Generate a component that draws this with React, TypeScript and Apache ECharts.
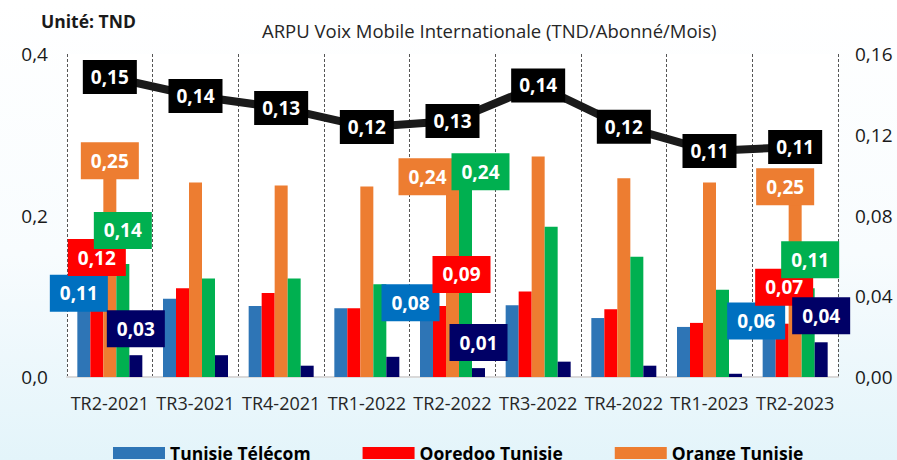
import React, { useEffect, useRef } from "react";
import * as echarts from "echarts";

const categories = ["TR2-2021", "TR3-2021", "TR4-2021", "TR1-2022", "TR2-2022", "TR3-2022", "TR4-2022", "TR1-2023", "TR2-2023"];
const tunisieTelecom = [0.108, 0.097, 0.088, 0.085, 0.084, 0.089, 0.073, 0.062, 0.06];
const ooredoo = [0.12, 0.11, 0.104, 0.085, 0.088, 0.106, 0.084, 0.067, 0.066];
const orange = [0.25, 0.241, 0.237, 0.236, 0.24, 0.273, 0.246, 0.241, 0.25];
const lyca = [0.14, 0.122, 0.122, 0.115, 0.245, 0.186, 0.149, 0.108, 0.11];
const autre = [0.027, 0.027, 0.014, 0.025, 0.011, 0.019, 0.014, 0.004, 0.043];
const moyenne = [0.1486, 0.1392, 0.1333, 0.1238, 0.1268, 0.1444, 0.124, 0.112, 0.1139];
const leftTicks = { min: 0, max: 0.4, interval: 0.2 };
const rightTicks = { min: 0, max: 0.16, interval: 0.04 };

// label offsets for labelled quarters (index -> [dx, dy])
const offsTT: Record<number, number[]> = { 0: [-5, 22], 4: [-16, 12], 8: [-13, 11] };
const offsOO: Record<number, number[]> = { 0: [0, -4], 4: [22, -13], 8: [2, -18] };
const offsOR: Record<number, number[]> = { 0: [0, 4], 4: [-25, 12], 8: [-10, 30] };
const offsLY: Record<number, number[]> = { 0: [0, -15], 4: [15, 11], 8: [2, -10] };
const offsAU: Record<number, number[]> = { 0: [0, -8], 4: [0, -7], 8: [0, -8] };

const fmt2 = (v: number) => v.toFixed(2).replace(".", ",");

function barSeries(name: string, values: number[], color: string, labelBg: string, offs: Record<number, number[]>) {
  return {
    name,
    type: "bar",
    yAxisIndex: 0,
    barWidth: 13,
    barGap: "0%",
    itemStyle: { color },
    label: {
      show: false,
      position: "top",
      distance: 0,
      formatter: (p: any) => fmt2(p.value),
      color: "#fff",
      fontWeight: "bold",
      fontSize: 19,
      fontFamily: "Open Sans",
      lineHeight: 25,
      padding: [6, 10],
      backgroundColor: labelBg,
    },
    data: values.map((v, i) =>
      offs[i] ? { value: v, label: { show: true, offset: offs[i] } } : v
    ),
  };
}

export default function App() {
  const ref = useRef<HTMLDivElement>(null);
  useEffect(() => {
    document.body.style.margin = "0";
    const chart = echarts.init(ref.current!, undefined, { renderer: "svg" });
    chart.setOption({
      animation: false,
      backgroundColor: {
        type: "linear", x: 0, y: 0, x2: 0, y2: 1,
        colorStops: [
          { offset: 0, color: "#FFFFFF" },
          { offset: 0.55, color: "#F8FCFE" },
          { offset: 1, color: "#E3F4FA" },
        ],
      },
      title: [
        {
          text: "ARPU Voix Mobile Internationale (TND/Abonné/Mois)",
          left: 257, top: 16,
          textStyle: { fontFamily: "Open Sans", fontSize: 18.5, fontWeight: "normal", color: "#262626" },
        },
        {
          text: "Unité: TND",
          left: 36, top: 7,
          textStyle: { fontFamily: "Open Sans", fontSize: 17.5, fontWeight: "bold", color: "#1a1a1a" },
        },
      ],
      legend: {
        data: ["Tunisie Télécom", "Ooredoo Tunisie", "Orange Tunisie"],
        left: 108, top: 439,
        icon: "rect",
        itemWidth: 52, itemHeight: 12, itemGap: 52,
        textStyle: { fontFamily: "Open Sans", fontSize: 17.5, fontWeight: "bold", color: "#000" },
      },
      grid: { left: 67, right: 59, top: 54, bottom: 83, show: true, backgroundColor: "#FFFFFF", borderWidth: 0 },
      xAxis: {
        type: "category",
        data: categories,
        axisLine: { lineStyle: { color: "#D9D9D9", width: 2 } },
        axisTick: { show: false },
        axisLabel: { fontFamily: "Open Sans", fontSize: 18, color: "#262626", margin: 17, interval: 0 },
        splitLine: { show: true, lineStyle: { type: [3, 2], color: "#555", width: 1 } },
      },
      yAxis: [
        {
          type: "value", ...leftTicks,
          axisLine: { show: false }, axisTick: { show: false }, splitLine: { show: false },
          axisLabel: { fontFamily: "Open Sans", fontSize: 19, color: "#1a1a1a", margin: 19, formatter: (v: number) => v.toFixed(1).replace(".", ",") },
        },
        {
          type: "value", ...rightTicks,
          axisLine: { show: false }, axisTick: { show: false }, splitLine: { show: false },
          axisLabel: { fontFamily: "Open Sans", fontSize: 19, color: "#1a1a1a", margin: 17, formatter: (v: number) => v.toFixed(2).replace(".", ",") },
        },
      ],
      series: [
        barSeries("Tunisie Télécom", tunisieTelecom, "#2E75B6", "#0070C0", offsTT),
        barSeries("Ooredoo Tunisie", ooredoo, "#FF0000", "#FF0000", offsOO),
        barSeries("Orange Tunisie", orange, "#ED7D31", "#ED7D31", offsOR),
        barSeries("Lycamobile", lyca, "#00B050", "#00B050", offsLY),
        barSeries("Autres", autre, "#000066", "#000066", offsAU),
        {
          name: "Moyenne",
          type: "line",
          yAxisIndex: 1,
          data: moyenne,
          symbol: "circle",
          symbolSize: 1,
          z: 5,
          lineStyle: { color: "#1a1a1a", width: 8 },
          itemStyle: { color: "#1a1a1a" },
          label: {
            show: true,
            position: "inside",
            formatter: (p: any) => fmt2(p.value),
            color: "#fff",
            fontWeight: "bold",
            fontSize: 19,
            fontFamily: "Open Sans",
            lineHeight: 24,
            padding: [5, 8],
            backgroundColor: "#000",
          },
        },
      ],
    });
    return () => chart.dispose();
  }, []);
  return <div ref={ref} style={{ position: "absolute", left: 0, top: 0, width: 897, height: 460 }} />;
}
